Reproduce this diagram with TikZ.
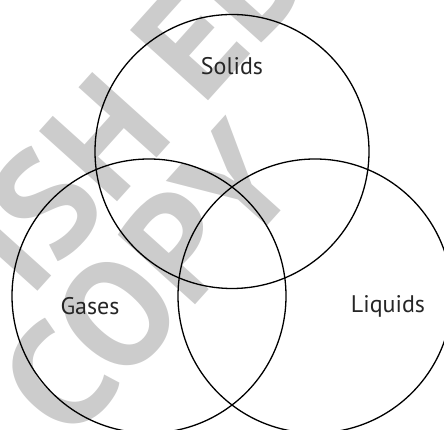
\documentclass[tikz,border=0pt]{standalone}
\usepackage{fontspec}
\setsansfont{PT Sans}
\tikzset{
  phase/.style={circle, draw, line width=1.3pt, minimum size=274pt, inner sep=0pt},
  phaselabel/.style={font=\sffamily\fontsize{24}{28}\selectfont, text=black!85},
  stamp/.style={font=\sffamily\bfseries\fontsize{150}{160}\selectfont, text=black!20, rotate=48}
}
\begin{document}
\begin{tikzpicture}[x=1pt,y=1pt]
\useasboundingbox (0,0) rectangle (444,430);
\clip (0,0) rectangle (444,430);

% Watermark
\node[stamp] (stampa) at (136,327) {ISH ED};
\node[stamp] (stampb) at (148,150) {COPY};

% Circles
\foreach \name/\x/\y in {solids/232/278.5, gases/149/134, liquids/315/134} {
  \node[phase] (\name) at (\x,\y) {};
}

% Labels
\node[phaselabel] (solidslabel) at (232,364) {Solids};
\node[phaselabel] (gaseslabel) at (90,124) {Gases};
\node[phaselabel] (liquidslabel) at (388,124) {Liquids};
\end{tikzpicture}
\end{document}
